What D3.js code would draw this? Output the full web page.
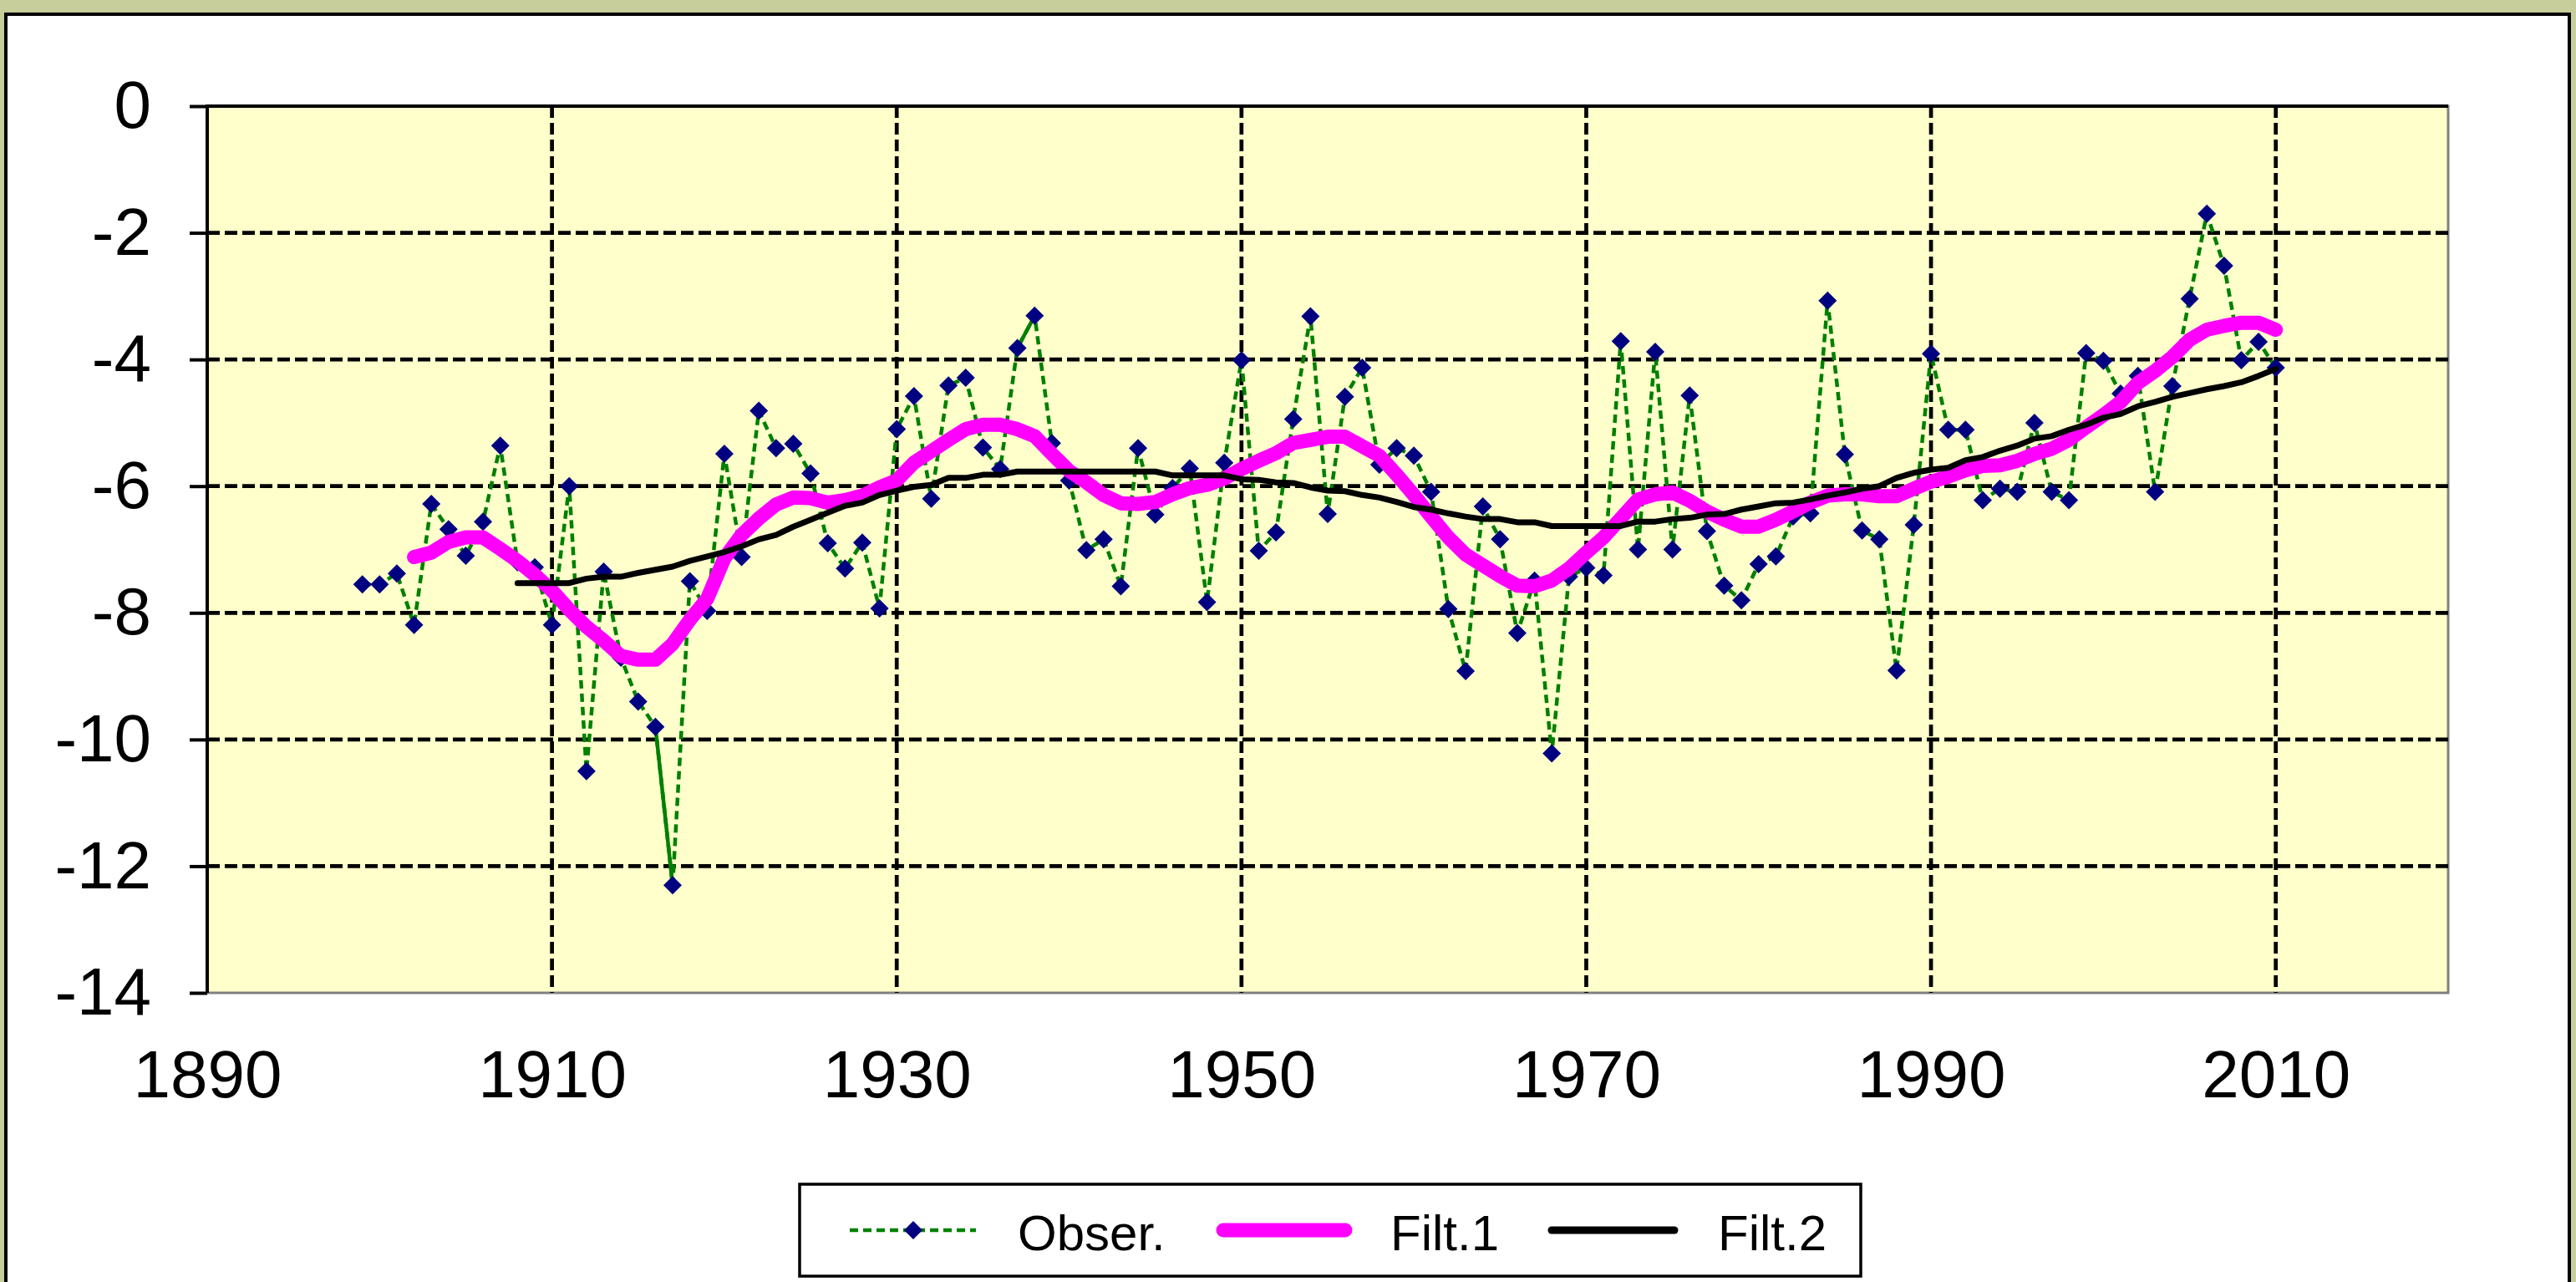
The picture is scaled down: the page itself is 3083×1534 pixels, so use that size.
<!DOCTYPE html>
<html><head><meta charset="utf-8">
<script src="https://cdn.jsdelivr.net/npm/d3@7/dist/d3.min.js"></script>
<style>html,body{margin:0;padding:0;background:#c8ce9b;overflow:hidden}svg{display:block}</style>
</head><body><svg id="c" width="3083" height="1534"></svg>
<script>
// ---------- data ----------
const obserStart = 1899;
const obser = [
 -7.55,-7.55,-7.38,-8.19,-6.28,-6.68,-7.10,-6.56,-5.36,-7.20,
 -7.28,-8.19,-6.00,-10.50,-7.35,-8.71,-9.40,-9.80,-12.30,-7.50,
 -7.97,-5.49,-7.12,-4.81,-5.40,-5.33,-5.80,-6.90,-7.30,-6.89,
 -7.93,-5.10,-4.58,-6.20,-4.41,-4.29,-5.39,-5.73,-3.82,-3.31,
 -5.32,-5.91,-7.01,-6.84,-7.58,-5.40,-6.45,-6.03,-5.72,-7.83,
 -5.63,-4.01,-7.02,-6.73,-4.94,-3.32,-6.44,-4.59,-4.13,-5.66,
 -5.40,-5.52,-6.09,-7.94,-8.92,-6.32,-6.84,-8.32,-7.49,-10.22,
 -7.43,-7.29,-7.41,-3.71,-7.00,-3.88,-7.00,-4.57,-6.71,-7.57,
 -7.80,-7.23,-7.11,-6.48,-6.43,-3.07,-5.50,-6.70,-6.84,-8.91,
 -6.61,-3.91,-5.11,-5.11,-6.22,-6.04,-6.09,-5.00,-6.09,-6.22,
 -3.90,-4.02,-4.54,-4.26,-6.09,-4.42,-3.04,-1.70,-2.52,-4.01,
 -3.72,-4.13
];
const filt1Start = 1902;
const filt1 = [
 -7.12,-7.05,-6.88,-6.81,-6.81,-6.99,-7.18,-7.40,-7.65,-7.95,
 -8.22,-8.44,-8.68,-8.74,-8.74,-8.49,-8.11,-7.78,-7.14,-6.77,
 -6.51,-6.29,-6.18,-6.19,-6.26,-6.22,-6.15,-6.02,-5.91,-5.63,
 -5.45,-5.27,-5.10,-5.03,-5.03,-5.10,-5.21,-5.49,-5.76,-5.94,
 -6.14,-6.27,-6.28,-6.25,-6.13,-6.03,-5.98,-5.88,-5.73,-5.60,
 -5.48,-5.32,-5.27,-5.22,-5.22,-5.37,-5.52,-5.82,-6.14,-6.48,
 -6.81,-7.08,-7.25,-7.42,-7.57,-7.58,-7.49,-7.30,-7.05,-6.81,
 -6.51,-6.21,-6.13,-6.10,-6.23,-6.40,-6.53,-6.64,-6.64,-6.53,
 -6.40,-6.26,-6.15,-6.13,-6.13,-6.16,-6.16,-6.04,-5.93,-5.85,
 -5.75,-5.68,-5.67,-5.60,-5.49,-5.41,-5.27,-5.07,-4.88,-4.67,
 -4.37,-4.18,-3.96,-3.69,-3.53,-3.47,-3.42,-3.42,-3.53
];
const filt2Start = 1908;
const filt2 = [
 -7.53,-7.53,-7.53,-7.53,-7.46,-7.43,-7.43,-7.37,-7.32,-7.27,
 -7.18,-7.11,-7.04,-6.95,-6.84,-6.77,-6.64,-6.53,-6.42,-6.31,
 -6.26,-6.14,-6.07,-6.01,-5.98,-5.87,-5.87,-5.82,-5.82,-5.77,
 -5.77,-5.77,-5.77,-5.77,-5.77,-5.77,-5.77,-5.77,-5.83,-5.83,
 -5.83,-5.83,-5.89,-5.90,-5.94,-5.95,-6.02,-6.07,-6.08,-6.14,
 -6.18,-6.25,-6.33,-6.37,-6.43,-6.48,-6.52,-6.52,-6.57,-6.57,
 -6.63,-6.63,-6.63,-6.63,-6.63,-6.56,-6.56,-6.52,-6.50,-6.45,
 -6.44,-6.37,-6.32,-6.27,-6.26,-6.21,-6.15,-6.10,-6.04,-6.00,
 -5.87,-5.79,-5.74,-5.71,-5.59,-5.54,-5.44,-5.36,-5.25,-5.21,
 -5.11,-5.03,-4.92,-4.86,-4.74,-4.67,-4.59,-4.53,-4.47,-4.42,
 -4.36,-4.26,-4.15
];
const solidSegmentStarts = [1916, 1937];
const xTicks = [1890, 1910, 1930, 1950, 1970, 1990, 2010];
const xGrid = [1910, 1930, 1950, 1970, 1990, 2010];
const yTicks = [0, -2, -4, -6, -8, -10, -12, -14];
const seriesNames = ["Obser.", "Filt.1", "Filt.2"];

// ---------- build ----------
const toPts = (arr, start) => arr.map((v, i) => ({year: start + i, value: v}));
const obsPts = toPts(obser, obserStart);
const f1Pts = toPts(filt1, filt1Start);
const f2Pts = toPts(filt2, filt2Start);

const svg = d3.select("#c");
const W = 3083, H = 1534;
const P = {l: 248, r: 2930, t: 127, b: 1188};
const FONT = "'Liberation Sans', Arial, sans-serif";

svg.append("rect").attr("width", W).attr("height", H).attr("fill", "#c8ce9b");
svg.append("rect").attr("x", 7).attr("y", 17).attr("width", 3068).attr("height", 1560)
  .attr("fill", "#ffffff").attr("stroke", "#000").attr("stroke-width", 4);

const x = d3.scaleLinear().domain([1890, 2020]).range([P.l, P.r]);
const y = d3.scaleLinear().domain([0, -14]).range([P.t, P.b]);

// plot area
svg.append("rect").attr("x", P.l).attr("y", P.t).attr("width", P.r - P.l).attr("height", P.b - P.t)
  .attr("fill", "#ffffcc").attr("stroke", "#808080").attr("stroke-width", 3);

// gridlines
const grid = svg.append("g");
grid.selectAll("line.h").data(yTicks.filter(v => v < 0 && v > -14)).join("line")
  .attr("x1", P.l).attr("x2", P.r).attr("y1", d => y(d)).attr("y2", d => y(d))
  .attr("stroke", "#000").attr("stroke-width", 4.7).attr("stroke-dasharray", "15,6");
grid.selectAll("line.v").data(xGrid).join("line")
  .attr("x1", d => x(d)).attr("x2", d => x(d)).attr("y1", P.t).attr("y2", P.b)
  .attr("stroke", "#000").attr("stroke-width", 4.7).attr("stroke-dasharray", "14,6");

// axes
const yAxis = d3.axisLeft(y).tickValues(yTicks).tickSize(21).tickPadding(46).tickFormat(d3.format("d"));
const gy = svg.append("g").attr("transform", `translate(${P.l},0)`).call(yAxis);
gy.select(".domain").attr("stroke", "#000").attr("stroke-width", 4).attr("d", `M0,${P.t}V${P.b}`);
gy.selectAll(".tick line").attr("stroke", "#000").attr("stroke-width", 4);
gy.selectAll(".tick text").attr("font-family", FONT)
  .attr("font-size", 80).attr("fill", "#000").attr("dy", "0.32em")
  .text(d => d < 0 ? "-" + Math.abs(d) : d);

const xAxis = d3.axisBottom(x).tickValues(xTicks).tickSize(0).tickFormat(d3.format("d"));
const gx = svg.append("g").attr("transform", `translate(0,${P.t})`).call(xAxis);
gx.select(".domain").remove();
gx.selectAll(".tick text").attr("font-family", FONT)
  .attr("font-size", 80).attr("fill", "#000").attr("dy", null)
  .attr("y", 1313 - P.t);
svg.append("line").attr("x1", P.l).attr("x2", P.r).attr("y1", y(0)).attr("y2", y(0))
  .attr("stroke", "#000").attr("stroke-width", 4);
svg.append("line").attr("x1", P.l).attr("x2", P.l).attr("y1", P.t - 2).attr("y2", P.b)
  .attr("stroke", "#000").attr("stroke-width", 4);

// series
const line = d3.line().x(d => x(d.year)).y(d => y(d.value));
svg.append("path").datum(obsPts).attr("d", line).attr("fill", "none")
  .attr("stroke", "#008000").attr("stroke-width", 4.5).attr("stroke-dasharray", "10,6");
svg.selectAll("path.solidseg").data(solidSegmentStarts).join("path")
  .attr("d", s => line(obsPts.filter(p => p.year === s || p.year === s + 1)))
  .attr("fill", "none").attr("stroke", "#008000").attr("stroke-width", 4.5);
const diamond = "M0,-11L11,0L0,11L-11,0Z";
svg.selectAll("path.mk").data(obsPts).join("path")
  .attr("d", diamond).attr("transform", d => `translate(${x(d.year)},${y(d.value)})`)
  .attr("fill", "#000080");
svg.append("path").datum(f1Pts).attr("d", line).attr("fill", "none")
  .attr("stroke", "#ff00ff").attr("stroke-width", 17).attr("stroke-linecap", "round").attr("stroke-linejoin", "round");
svg.append("path").datum(f2Pts).attr("d", line).attr("fill", "none")
  .attr("stroke", "#000").attr("stroke-width", 7).attr("stroke-linecap", "round").attr("stroke-linejoin", "round");

// legend
const lg = svg.append("g");
lg.append("rect").attr("x", 957).attr("y", 1417).attr("width", 1270).attr("height", 110)
  .attr("fill", "#fff").attr("stroke", "#000").attr("stroke-width", 3.5);
const ly = 1472;
lg.append("line").attr("x1", 1017).attr("x2", 1168).attr("y1", ly).attr("y2", ly)
  .attr("stroke", "#008000").attr("stroke-width", 4.5).attr("stroke-dasharray", "10,6");
lg.append("path").attr("d", diamond).attr("transform", `translate(1093,${ly})`).attr("fill", "#000080");
lg.append("line").attr("x1", 1464).attr("x2", 1610).attr("y1", ly).attr("y2", ly)
  .attr("stroke", "#ff00ff").attr("stroke-width", 17).attr("stroke-linecap", "round");
lg.append("line").attr("x1", 1857).attr("x2", 2004).attr("y1", ly).attr("y2", ly)
  .attr("stroke", "#000").attr("stroke-width", 9).attr("stroke-linecap", "round");
const lx = [1218, 1664, 2056];
lg.selectAll("text").data(seriesNames).join("text")
  .attr("x", (d, i) => lx[i]).attr("y", 1496)
  .attr("font-family", FONT).attr("font-size", 60).attr("fill", "#000")
  .text(d => d);
</script>
</body></html>
